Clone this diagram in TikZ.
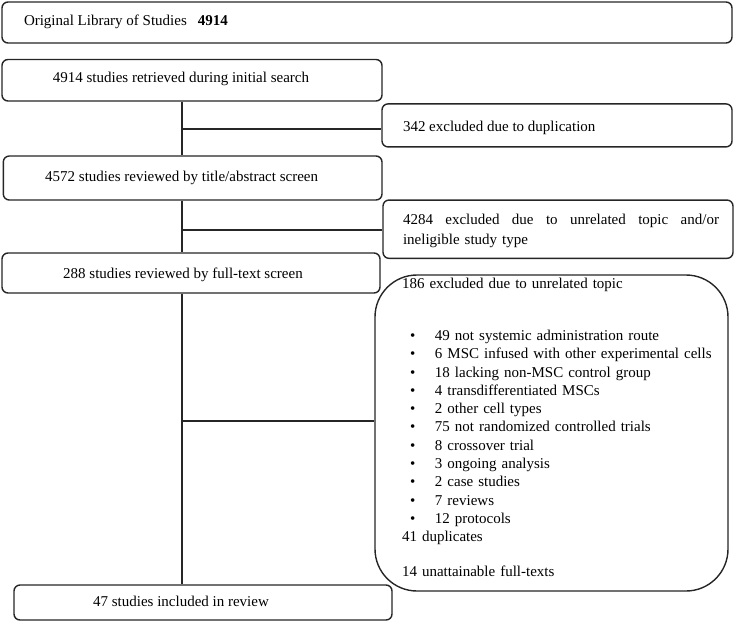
\documentclass[tikz,border=0pt]{standalone}
\usepackage{fontspec}
\setmainfont{Liberation Serif}
\begin{document}
\begin{tikzpicture}[x=1pt,y=-1pt,
  box/.style={draw=black!85,line width=1.4pt,rounded corners=6pt,fill=white,inner sep=0pt,
    font=\fontsize{15}{18.3}\selectfont},
  base/.style={text height=7.5pt+#1pt,text depth=7.5pt-#1pt},
  link/.style={draw=black!85,line width=1.4pt}]
\useasboundingbox (0,0) rectangle (735,621);
\newcommand\offc[3]{\makebox[#1][c]{#3\hspace{#2}}}
\newcommand\bul{\makebox[33pt][l]{\hspace{8pt}\textbullet}}
% boxes
\node[box,base=2.5,minimum width=730pt,minimum height=41pt] (lib) at (367,22.5)
  {\makebox[730pt][l]{\hspace{22pt}Original Library of Studies\hspace{11pt}\textbf{4914}}};
\node[box,base=2,minimum width=380pt,minimum height=41.5pt] (ret) at (192,80.25)
  {\offc{380pt}{22pt}{4914 studies retrieved during initial search}};
\node[box,base=6.2,minimum width=350pt,minimum height=43pt] (dup) at (557,125.4)
  {\makebox[350pt][l]{\hspace{21pt}342 excluded due to duplication}};
\node[box,base=3.7,minimum width=378.7pt,minimum height=44pt] (tit) at (192.65,178)
  {\offc{378.7pt}{22pt}{4572 studies reviewed by title/abstract screen}};
\node[box,minimum width=350pt,minimum height=58.3pt,text width=322pt,align=left,
  font=\fontsize{15}{20}\selectfont] (unr) at (558,229.2)
  {\rule{0pt}{14.3pt}\hspace*{6pt}\makebox[316pt][l]{4284\hfill excluded\hfill due\hfill to\hfill unrelated\hfill topic\hfill and/or}\\
   \hspace*{6pt}ineligible study type};
\node[box,base=5.3,minimum width=378pt,minimum height=40pt] (ful) at (191,273)
  {\offc{378pt}{16pt}{288 studies reviewed by full-text screen}};
\node[box,rounded corners=42pt,minimum width=353pt,minimum height=316pt,text width=332pt,align=left] (exc) at (551.5,433)
  {\leftskip=16.5pt 186 excluded due to unrelated topic\\[33.7pt]
   \bul49 not systemic administration route\\
   \bul6 MSC infused with other experimental cells\\
   \bul18 lacking non-MSC control group\\
   \bul4 transdifferentiated MSCs\\
   \bul2 other cell types\\
   \bul75 not randomized controlled trials\\
   \bul8 crossover trial\\
   \bul3 ongoing analysis\\
   \bul2 case studies\\
   \bul7 reviews\\
   \bul12 protocols\\
   41 duplicates\\[16.7pt]
   14 unattainable full-texts\\[-7pt]\mbox{}};
\node[box,base=4.2,minimum width=378pt,minimum height=35pt] (inc) at (203,602.5)
  {\offc{378pt}{44pt}{47 studies included in review}};
% connectors
\coordinate (spine) at (182,0);
\draw[link] (ret.south -| spine) -- (tit.north -| spine);
\draw[link] (tit.south -| spine) -- (ful.north -| spine);
\draw[link] (ful.south -| spine) -- (inc.north -| spine);
\draw[link] ([yshift=-3.5pt]dup.west -| spine) -- ([yshift=-3.5pt]dup.west);
\draw[link] ([yshift=-0.8pt]unr.west -| spine) -- ([yshift=-0.8pt]unr.west);
\draw[link] ([yshift=12pt]exc.west -| spine) -- ([yshift=12pt]exc.west);
\end{tikzpicture}
\end{document}
